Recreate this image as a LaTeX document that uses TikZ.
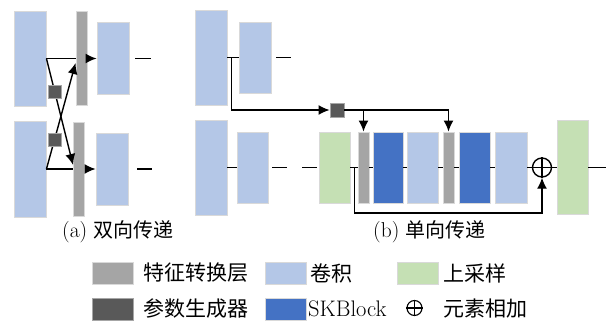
\documentclass[tikz,border=0pt]{standalone}
\usepackage{fontspec}
\newfontfamily\cjk{Noto Sans CJK SC}
\usetikzlibrary{arrows.meta,calc}
\definecolor{convc}{HTML}{B4C7E7}
\definecolor{skc}{HTML}{4472C4}
\definecolor{upc}{HTML}{C5E0B4}
\definecolor{ftc}{HTML}{A5A5A5}
\definecolor{pgc}{HTML}{595959}
\begin{document}
\begin{tikzpicture}[x=1pt,y=-1pt,
  blk/.style={draw=black!15, line width=0.9pt, inner sep=0pt},
  conv/.style={blk, fill=convc},
  skb/.style={blk, fill=skc},
  ups/.style={blk, fill=upc},
  ftl/.style={blk, fill=ftc},
  pg/.style={draw=black!35, line width=0.9pt, inner sep=0pt, fill=pgc, minimum width=13, minimum height=13},
  ln/.style={line width=1.4pt, black},
  ar/.style={ln, -{Latex[length=11pt,width=10pt]}},
  opl/.style={circle, draw, line width=1.4pt, inner sep=0pt},
  lbl/.style={anchor=west, inner sep=0pt, font=\fontsize{21.5}{24}\selectfont},
  leg/.style={anchor=west, inner sep=0pt, font=\fontsize{21}{24}\selectfont}
]
\useasboundingbox (0,0) rectangle (610,321);

% ---------- (a) ----------
\node[conv, minimum width=32, minimum height=95] (A1) at (30,58.5) {};
\node[ftl, minimum width=11, minimum height=94] (G1) at (81.5,58.5) {};
\node[conv, minimum width=32, minimum height=72] (C1) at (113,58.5) {};
\node[conv, minimum width=32, minimum height=96] (A2) at (30,169) {};
\node[ftl, minimum width=11, minimum height=94] (G2) at (79,169) {};
\node[conv, minimum width=32, minimum height=72] (C2) at (112,169) {};

\draw[ln] (A1.east) -- (G1.west);
\draw[ar] (G1.east) -- (C1.west);
\draw[ln] (A2.east) -- (G2.west);
\draw[ar] (G2.east) -- (C2.west);
\draw[ar] (A1.east) -- ($(G2.west)+(0,-4)$);
\draw[ar] (A2.east) -- ($(G1.west)+(0,4.5)$);
\node[pg] (P1) at (55,91.5) {};
\node[pg] (P2) at (55,140) {};
\draw[ln] ([xshift=6]C1.east) -- ([xshift=22]C1.east);
\draw[ln] ([xshift=9]C2.east) -- ([xshift=24]C2.east);

\node[lbl] (capa) at (62,232) {(a) {\cjk\fontsize{20}{24}\selectfont 双向传递}};

% ---------- (b) ----------
\node[conv, minimum width=32, minimum height=95] (B1) at (211,57.5) {};
\node[conv, minimum width=32, minimum height=71] (B2) at (255,57.5) {};
\node[conv, minimum width=32, minimum height=95] (B3) at (211,167.5) {};
\node[conv, minimum width=31, minimum height=71] (B4) at (252.5,167.5) {};
\node[ups, minimum width=31, minimum height=71] (U1) at (334.5,167.5) {};
\node[ftl, minimum width=11, minimum height=71] (GB1) at (363.5,167.5) {};
\node[skb, minimum width=30, minimum height=71] (SK1) at (388,167.5) {};
\node[conv, minimum width=31, minimum height=71] (K1) at (422.5,167.5) {};
\node[ftl, minimum width=11, minimum height=71] (GB2) at (448.5,167.5) {};
\node[skb, minimum width=31, minimum height=71] (SK2) at (474.5,167.5) {};
\node[conv, minimum width=32, minimum height=71] (K2) at (511,167.5) {};
\node[opl, minimum size=19] (OP) at (542,167.5) {};
\draw[line width=1.4pt] (OP.north) -- (OP.south) (OP.west) -- (OP.east);
\node[ups, minimum width=31, minimum height=94] (U2) at (572.5,167.5) {};
\node[pg, minimum width=14, minimum height=14] (PB) at (337,110) {};

\draw[ln] (B1.east) -- (B2.west);
\coordinate (br) at ([xshift=4]B1.east);
\draw[ln] ([xshift=5]B2.east) -- ([xshift=20]B2.east);
\draw[ar] (br) |- (PB.west);
\draw[ar] (GB1.north |- PB.east) -- (GB1.north);
\draw[ar] (PB.east) -| (GB2.north);

\draw[ln] (B3.east) -- (B4.west);
\draw[ln] ([xshift=4]B4.east) -- ([xshift=19]B4.east);
\draw[ln] ([xshift=34]B4.east) -- ([xshift=49]B4.east);
\draw[ln] (U1.east) -- (GB1.west);
\draw[ln] (GB1.east) -- (SK1.west);
\draw[ln] (SK1.east) -- (K1.west);
\draw[ln] (K1.east) -- (GB2.west);
\draw[ln] (GB2.east) -- (SK2.west);
\draw[ln] (SK2.east) -- (K2.west);
\draw[ln] (K2.east) -- (OP.west);
\draw[ln] (OP.east) -- (U2.west);
\draw[ln] (U2.east) -- ([xshift=18]U2.east);
\coordinate (br2) at ([xshift=4]U1.east);
\draw[ar] (br2) -- ++(0,45.5) -| (OP.south);

\node[lbl] (capb) at (373,232) {(b) {\cjk\fontsize{20}{24}\selectfont 单向传递}};

% ---------- legend ----------
\node[ftl, minimum width=41, minimum height=22] (L1) at (112.5,273) {};
\node[leg] (T1) at (143,273) {\cjk 特征转换层};
\node[conv, minimum width=41, minimum height=22] (L2) at (285.5,273) {};
\node[leg] (T2) at (310,273) {\cjk 卷积};
\node[ups, minimum width=41, minimum height=22] (L3) at (417.5,273) {};
\node[leg] (T3) at (443,273) {\cjk 上采样};
\node[pg, minimum width=41, minimum height=22] (L4) at (112.5,309) {};
\node[leg] (T4) at (143,309) {\cjk 参数生成器};
\node[skb, minimum width=41, minimum height=22] (L5) at (285.5,309) {};
\node[leg, font=\fontsize{22.5}{24}\selectfont] (T5) at (308,309) {SKBlock};
\node[opl, minimum size=15, line width=1.1pt] (L6) at (414.5,308) {};
\draw[line width=1.1pt] (L6.north) -- (L6.south) (L6.west) -- (L6.east);
\node[leg] (T6) at (443,309) {\cjk 元素相加};
\end{tikzpicture}
\end{document}
